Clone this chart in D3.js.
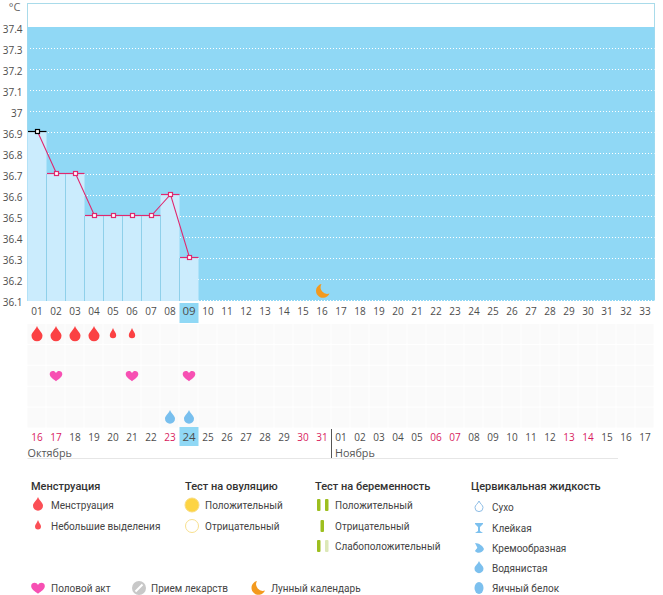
<!DOCTYPE html>
<html>
<head>
<meta charset="utf-8">
<script src="https://cdn.jsdelivr.net/npm/d3@7"></script>
<style>
  html, body { margin: 0; padding: 0; background: #fff; }
  svg { display: block; }
  text { font-family: "Open Sans", sans-serif; }
  .legend text { font-family: Roboto, sans-serif; }
</style>
</head>
<body>
<svg id="chart" width="663" height="595"></svg>
<script>
// cycle data
const cycleDays = d3.range(1, 34).map(d => String(d).padStart(2, '0'));
const tempTicks = [36.1, 36.2, 36.3, 36.4, 36.5, 36.6, 36.7, 36.8, 36.9, 37, 37.1, 37.2, 37.3, 37.4];
const temps = [36.9, 36.7, 36.7, 36.5, 36.5, 36.5, 36.5, 36.6, 36.3];
const dates = ['16','17','18','19','20','21','22','23','24','25','26','27','28','29','30','31',
  '01','02','03','04','05','06','07','08','09','10','11','12','13','14','15','16','17'];
const redDates = [0, 1, 7, 14, 15, 21, 22, 28, 29];
const todayIndex = 8;
const moonDay = 15;
const menstruation = [2, 2, 2, 2, 1, 1];
const intercourseDays = [1, 5, 8];
const fluidDays = [7, 8];
const rowNames = ['menses', 'ovulation', 'sex', 'pregnancy', 'fluid'];

const svg = d3.select('#chart');
const left = 27.5, right = 654.5;
const pink = '#e0286f';

// scales
const x = d3.scaleBand().domain(d3.range(33)).range([left, right]);
const y = d3.scaleLinear().domain([36.1, 37.4]).range([300, 27]);
const rowY = d3.scaleBand().domain(rowNames).range([323.5, 428]);
const cx = i => x(i) + x.bandwidth() / 2;

// icon paths, centred on 0,0
const dropPath = (r, h) => `M0,${-h}C${r * 0.35},${-h * 0.45} ${r},${-r * 0.5} ${r},${r * 0.15}A${r},${r} 0 0 1 ${-r},${r * 0.15}C${-r},${-r * 0.5} ${-r * 0.35},${-h * 0.45} 0,${-h}Z`;
const heartPath = s => `M0,${s * 0.9}C${-s * 0.5},${s * 0.5} ${-s * 1.05},${s * 0.2} ${-s * 1.05},${-s * 0.3}C${-s * 1.05},${-s * 0.85} ${-s * 0.25},${-s * 1} 0,${-s * 0.45}C${s * 0.25},${-s} ${s * 1.05},${-s * 0.85} ${s * 1.05},${-s * 0.3}C${s * 1.05},${s * 0.2} ${s * 0.5},${s * 0.5} 0,${s * 0.9}Z`;
const moonPath = s => `M${-s * 0.15},${-s}A${s},${s} 0 1 0 ${s},${s * 0.35}A${s * 0.95},${s * 0.95} 0 0 1 ${-s * 0.15},${-s}Z`;

// plot background
svg.append('rect').attr('x', left).attr('y', 3.5).attr('width', right - left).attr('height', 297)
  .attr('fill', '#fff').attr('stroke', '#a9dbea').attr('stroke-width', 1);
svg.append('rect').attr('x', left).attr('y', y(37.4)).attr('width', right - left).attr('height', y(36.1) - y(37.4) + 1)
  .attr('fill', '#90d8f5');

// dotted grid
svg.append('g').selectAll('line').data(tempTicks.slice(0, -1)).join('line')
  .attr('x1', 30).attr('x2', right)
  .attr('y1', d => y(d) + 0.5).attr('y2', d => y(d) + 0.5)
  .attr('stroke', '#fff').attr('stroke-width', 1).attr('stroke-dasharray', '1,2');

// bars
const barG = svg.append('g');
barG.selectAll('rect').data(temps).join('rect')
  .attr('x', (d, i) => x(i)).attr('y', d => y(d) - 0.5)
  .attr('width', x.bandwidth()).attr('height', d => y(36.1) - y(d) + 1.5)
  .attr('fill', '#cbecfd');
barG.selectAll('line').data(temps.slice(0, -1)).join('line')
  .attr('x1', (d, i) => x(i + 1)).attr('x2', (d, i) => x(i + 1))
  .attr('y1', (d, i) => y(Math.min(d, temps[i + 1]))).attr('y2', y(36.1) + 1)
  .attr('stroke', '#8fd0ea').attr('stroke-width', 1);

// tick caps on each temperature
svg.append('g').selectAll('line').data(temps).join('line')
  .attr('x1', (d, i) => x(i) + 0.5).attr('x2', (d, i) => x(i) + x.bandwidth())
  .attr('y1', d => y(d) - 0.5).attr('y2', d => y(d) - 0.5)
  .attr('stroke', (d, i) => i === 0 ? '#000' : pink).attr('stroke-width', 1.2);

// temperature line
svg.append('path').datum(temps)
  .attr('d', d3.line().x((d, i) => cx(i) + 0.5).y(d => y(d) - 0.5))
  .attr('fill', 'none').attr('stroke', pink).attr('stroke-width', 1.1);
svg.append('g').selectAll('rect').data(temps).join('rect')
  .attr('x', (d, i) => cx(i) - 1.5).attr('y', d => y(d) - 2.5)
  .attr('width', 4).attr('height', 4)
  .attr('fill', '#fff').attr('stroke', (d, i) => i === 0 ? '#000' : pink).attr('stroke-width', 1.2);

// y axis labels
svg.append('text').attr('x', 20.5).attr('y', 11).attr('text-anchor', 'end')
  .attr('font-family', '"Liberation Sans", sans-serif')
  .attr('font-size', 11).attr('fill', '#666').text('°C');
svg.append('g').attr('transform', `translate(${left},2)`)
  .call(d3.axisLeft(y).tickValues(tempTicks).tickFormat(d => String(d)).tickSize(0).tickPadding(5))
  .call(g => g.select('.domain').remove())
  .call(g => g.selectAll('text').attr('font-size', 10).attr('fill', '#4d4d4d').attr('font-family', '"Open Sans", sans-serif'));

// moon
svg.append('path').attr('d', moonPath(7))
  .attr('transform', `translate(${cx(moonDay) + 0.5},${y(36.1) - 9})`).attr('fill', '#f39a1e');

// highlighted day cells
svg.append('rect').attr('x', x(todayIndex)).attr('y', 303).attr('width', x.bandwidth()).attr('height', 20).attr('fill', '#90d8f5');

// symptom grid
svg.append('g').selectAll('g').data(rowNames).join('g')
  .attr('transform', d => `translate(0,${rowY(d)})`)
  .selectAll('rect').data(d3.range(33)).join('rect')
  .attr('x', i => x(i)).attr('y', 0.5)
  .attr('width', x.bandwidth() - 1).attr('height', rowY.bandwidth() - 1)
  .attr('fill', '#fafafa');
svg.append('rect').attr('x', x(todayIndex)).attr('y', 427).attr('width', x.bandwidth()).attr('height', 19).attr('fill', '#90d8f5');

// cycle day labels
svg.append('g').attr('transform', 'translate(0,315)')
  .call(d3.axisBottom(x).tickFormat(i => cycleDays[i]).tickSize(0).tickPadding(0))
  .call(g => g.select('.domain').remove())
  .call(g => g.selectAll('text').attr('y', 0).attr('dy', 0).attr('font-size', d => d === todayIndex ? 11.5 : 10)
    .attr('fill', '#4d4d4d').attr('font-family', '"Open Sans", sans-serif'));

// symptom marks
svg.append('g').selectAll('path').data(menstruation).join('path')
  .attr('d', d => d === 2 ? dropPath(5.5, 9) : dropPath(3.2, 6.5))
  .attr('transform', (d, i) => `translate(${cx(i)},${rowY('menses') + rowY.bandwidth() / 2 + (d === 2 ? 1 : 0.5)})`)
  .attr('fill', '#fb4143');
svg.append('g').selectAll('path').data(intercourseDays).join('path')
  .attr('d', heartPath(6))
  .attr('transform', d => `translate(${cx(d)},${rowY('sex') + rowY.bandwidth() / 2})`)
  .attr('fill', '#f750b3');
svg.append('g').selectAll('path').data(fluidDays).join('path')
  .attr('d', dropPath(5, 8))
  .attr('transform', d => `translate(${cx(d)},${rowY('fluid') + rowY.bandwidth() / 2 + 0.5})`)
  .attr('fill', '#78bfee');

// calendar dates
svg.append('g').attr('transform', 'translate(0,441)')
  .call(d3.axisBottom(x).tickFormat(i => dates[i]).tickSize(0).tickPadding(0))
  .call(g => g.select('.domain').remove())
  .call(g => g.selectAll('text').attr('y', 0).attr('dy', 0).attr('font-size', d => d === todayIndex ? 11.5 : 10)
    .attr('fill', d => redDates.includes(d) ? '#d81b60' : '#4d4d4d')
    .attr('font-family', '"Open Sans", sans-serif'));

// month labels
svg.append('line').attr('x1', left).attr('x2', 618).attr('y1', 458.5).attr('y2', 458.5).attr('stroke', '#e6e6e6');
svg.append('line').attr('x1', x(16)).attr('x2', x(16)).attr('y1', 429).attr('y2', 458).attr('stroke', '#555');
svg.append('text').attr('x', left).attr('y', 457).attr('font-size', 10.8).attr('fill', '#555').text('Октябрь');
svg.append('text').attr('x', x(16) + 3.5).attr('y', 457).attr('font-size', 10.8).attr('fill', '#555').text('Ноябрь');

// legend
const legendTitles = [
  { label: 'Менструация', x: 31 },
  { label: 'Тест на овуляцию', x: 185 },
  { label: 'Тест на беременность', x: 315 },
  { label: 'Цервикальная жидкость', x: 471 }
];
const legendItems = [
  { label: 'Менструация', x: 51, y: 509, icon: 'dropBig', ix: 38 },
  { label: 'Небольшие выделения', x: 51, y: 530, icon: 'dropSmall', ix: 38 },
  { label: 'Положительный', x: 205, y: 509, icon: 'ovuPos', ix: 192 },
  { label: 'Отрицательный', x: 205, y: 530, icon: 'ovuNeg', ix: 192 },
  { label: 'Положительный', x: 335, y: 509, icon: 'pregPos', ix: 322 },
  { label: 'Отрицательный', x: 335, y: 530, icon: 'pregNeg', ix: 322 },
  { label: 'Слабоположительный', x: 335, y: 550, icon: 'pregWeak', ix: 322 },
  { label: 'Сухо', x: 492, y: 511, icon: 'dry', ix: 479 },
  { label: 'Клейкая', x: 492, y: 532, icon: 'sticky', ix: 479 },
  { label: 'Кремообразная', x: 492, y: 552, icon: 'creamy', ix: 479 },
  { label: 'Водянистая', x: 492, y: 572, icon: 'watery', ix: 479 },
  { label: 'Яичный белок', x: 492, y: 592, icon: 'egg', ix: 479 },
  { label: 'Половой акт', x: 51, y: 592, icon: 'heart', ix: 38 },
  { label: 'Прием лекарств', x: 151, y: 592, icon: 'pill', ix: 139 },
  { label: 'Лунный календарь', x: 271, y: 592, icon: 'moon', ix: 258 }
];

const legend = svg.append('g').attr('class', 'legend');
legend.append('g').selectAll('text').data(legendTitles).join('text')
  .attr('x', d => d.x).attr('y', 490)
  .attr('font-size', 11).attr('font-weight', 500).attr('fill', '#333').text(d => d.label);
legend.append('g').selectAll('text').data(legendItems).join('text')
  .attr('x', d => d.x).attr('y', d => d.y)
  .attr('font-size', 10).attr('fill', '#444').text(d => d.label);

const iconG = legend.append('g').selectAll('g').data(legendItems).join('g')
  .attr('transform', d => `translate(${d.ix},${d.y - 4})`);
iconG.each(function (d) {
  const g = d3.select(this);
  if (d.icon === 'dropBig') g.append('path').attr('d', dropPath(5, 8)).attr('fill', '#fb4f56');
  if (d.icon === 'dropSmall') g.append('path').attr('d', dropPath(3, 6)).attr('fill', '#fb4f56');
  if (d.icon === 'ovuPos') g.append('circle').attr('r', 7).attr('fill', '#fdd443').attr('stroke', '#f8dc80');
  if (d.icon === 'ovuNeg') g.append('circle').attr('r', 6.5).attr('fill', '#fff').attr('stroke', '#f8e08e');
  if (d.icon === 'pregPos' || d.icon === 'pregWeak') {
    g.append('rect').attr('x', -5).attr('y', -6).attr('width', 3.5).attr('height', 12).attr('rx', 1).attr('fill', '#9dbf1f');
    g.append('rect').attr('x', 3).attr('y', -6).attr('width', 3.5).attr('height', 12).attr('rx', 1)
      .attr('fill', d.icon === 'pregPos' ? '#9dbf1f' : '#dce8b8');
  }
  if (d.icon === 'pregNeg') g.append('rect').attr('x', -1.5).attr('y', -6).attr('width', 3.5).attr('height', 12).attr('rx', 1).attr('fill', '#9dbf1f');
  if (d.icon === 'dry') g.append('path').attr('d', dropPath(4, 6)).attr('fill', '#fff').attr('stroke', '#8dbde6');
  if (d.icon === 'sticky') g.append('path').attr('d', 'M-4,-5H4V-4L1,-1V3L4,5H-4L-1,3V-1L-4,-4Z').attr('fill', '#7cc0ee');
  if (d.icon === 'creamy') g.append('path').attr('d', 'M-4,-5C0,-5 4,-2 5,1C4,5 -2,6 -4,3C-3,1 -1,0 -2,-1Z').attr('fill', '#7cc0ee');
  if (d.icon === 'watery') g.append('path').attr('d', dropPath(4.5, 7)).attr('fill', '#7cc0ee');
  if (d.icon === 'egg') g.append('ellipse').attr('rx', 4.5).attr('ry', 6).attr('fill', '#7cc0ee');
  if (d.icon === 'heart') g.append('path').attr('d', heartPath(6.5)).attr('fill', '#f750b3');
  if (d.icon === 'pill') {
    g.append('circle').attr('r', 7).attr('fill', '#c8c8c8');
    g.append('line').attr('x1', -3.5).attr('y1', 3.5).attr('x2', 3.5).attr('y2', -3.5).attr('stroke', '#fff').attr('stroke-width', 2);
  }
  if (d.icon === 'moon') g.append('path').attr('d', moonPath(7)).attr('fill', '#f39a1e');
});
</script>
</body>
</html>
